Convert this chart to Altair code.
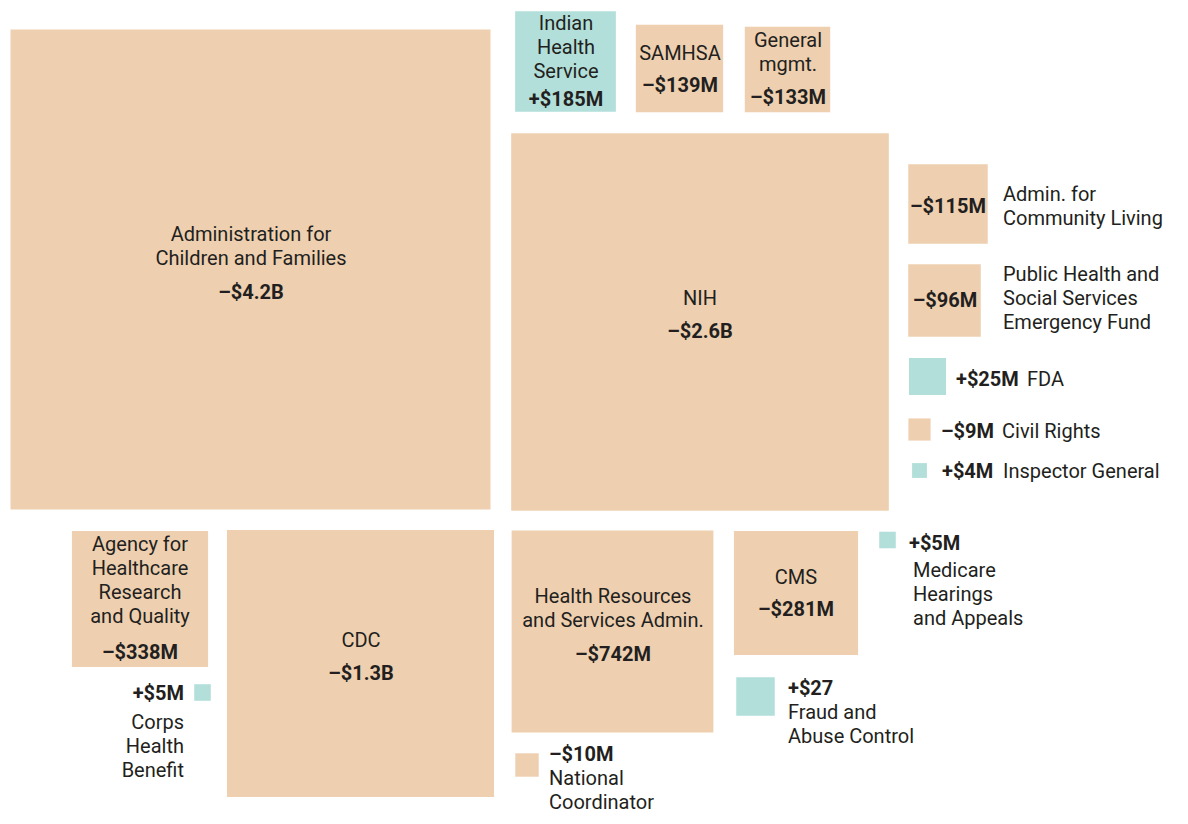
import altair as alt
import pandas as pd
import numpy as np

# ---- data ----
agencies = [
    "Administration for Children and Families", "NIH", "Indian Health Service", "SAMHSA",
    "General mgmt.", "Admin. for Community Living",
    "Public Health and Social Services Emergency Fund", "FDA", "Civil Rights",
    "Inspector General", "Agency for Healthcare Research and Quality", "Corps Health Benefit",
    "CDC", "Health Resources and Services Admin.", "National Coordinator", "CMS",
    "Medicare Hearings and Appeals", "Fraud and Abuse Control",
]
change_musd = [-4200, -2600, 185, -139, -133, -115, -96, 25, -9, 4,
               -338, 5, -1300, -742, -10, -281, 5, 27]
value_labels = ["–$4.2B", "–$2.6B", "+$185M", "–$139M", "–$133M", "–$115M", "–$96M",
                "+$25M", "–$9M", "+$4M", "–$338M", "+$5M", "–$1.3B", "–$742M",
                "–$10M", "–$281M", "+$5M", "+$27"]
name_lines = [
    ["Administration for", "Children and Families"], ["NIH"], ["Indian", "Health", "Service"],
    ["SAMHSA"], ["General", "mgmt."], ["Admin. for", "Community Living"],
    ["Public Health and", "Social Services", "Emergency Fund"], ["FDA"], ["Civil Rights"],
    ["Inspector General"], ["Agency for", "Healthcare", "Research", "and Quality"],
    ["Corps", "Health", "Benefit"], ["CDC"], ["Health Resources", "and Services Admin."],
    ["National", "Coordinator"], ["CMS"], ["Medicare", "Hearings", "and Appeals"],
    ["Fraud and", "Abuse Control"],
]

# ---- layout (square centres and label anchors, in page pixels) ----
centers = [(250.5, 269.5), (700, 322), (565.5, 61.5), (679.5, 68.5), (787.5, 69.5),
           (948, 204), (944.5, 300.5), (927.5, 376.5), (919.5, 429.5), (919.5, 470.5),
           (140, 599), (202.5, 692.5), (360.5, 663.5), (612.5, 631.5), (527, 765),
           (796, 593), (887.5, 540), (755.5, 696.5)]
# name_x, name_y (first line centre), name_align, value_x, value_y, value_align
label_layout = [
    (251, 234, "center", 251, 292, "center"),
    (700, 298, "center", 700, 331, "center"),
    (566, 23, "center", 566, 99, "center"),
    (680, 53, "center", 680, 85, "center"),
    (788, 40, "center", 788, 97, "center"),
    (1003, 194, "left", 948, 206, "center"),
    (1003, 274, "left", 945, 300, "center"),
    (1027, 379, "left", 956, 379, "left"),
    (1002, 431, "left", 941, 431, "left"),
    (1003, 471, "left", 942, 471, "left"),
    (140, 544, "center", 140, 652, "center"),
    (184, 722, "right", 184, 693, "right"),
    (361, 640, "center", 361, 673, "center"),
    (613, 596, "center", 613, 654, "center"),
    (549, 778, "left", 549, 754, "left"),
    (796, 577, "center", 796, 609, "center"),
    (913, 570, "left", 909, 543, "left"),
    (788, 712, "left", 788, 688, "left"),
]
LINE = 24
BASE = 7

TAN = "#EED0B0"
TEAL = "#B2DFDA"
INK = "#231F20"
FONT = "Roboto"
FS = 20

sq = pd.DataFrame({
    "agency": agencies,
    "change": change_musd,
    "abs_change": [abs(v) for v in change_musd],
    "direction": ["increase" if v > 0 else "cut" for v in change_musd],
    "cx": [c[0] for c in centers],
    "cy": [c[1] for c in centers],
})

rows = []
for i, lay in enumerate(label_layout):
    nx, ny, na, vx, vy, va = lay
    for j, line in enumerate(name_lines[i]):
        rows.append({"x": nx, "y": ny + j * LINE + BASE, "text": line, "bold": False, "align": na})
    rows.append({"x": vx, "y": vy + BASE, "text": value_labels[i], "bold": True, "align": va})
txt = pd.DataFrame(rows)

W, H = 1172, 808
xs = alt.Scale(domain=[8, 8 + W], range=[0, W])
ys = alt.Scale(domain=[8, 8 + H], range=[0, H])

k = 480 / np.sqrt(4200)  # px per sqrt($M)
size_scale = alt.Scale(domain=[0, 4200], range=[0, 4200 * k * k], zero=True)

squares = alt.Chart(sq).mark_square(opacity=1, filled=True, strokeWidth=0).encode(
    x=alt.X("cx:Q", scale=xs, axis=None),
    y=alt.Y("cy:Q", scale=ys, axis=None),
    size=alt.Size("abs_change:Q", scale=size_scale, legend=None),
    color=alt.Color("direction:N", scale=alt.Scale(domain=["cut", "increase"], range=[TAN, TEAL]), legend=None),
)

layers = [squares]
for align in ["left", "center", "right"]:
    for bold in [False, True]:
        d = txt[(txt["align"] == align) & (txt["bold"] == bold)]
        if len(d) == 0:
            continue
        layers.append(
            alt.Chart(d).mark_text(
                align=align, baseline="alphabetic", font=FONT, fontSize=FS,
                fontWeight="bold" if bold else "normal", color=INK,
            ).encode(
                x=alt.X("x:Q", scale=xs, axis=None),
                y=alt.Y("y:Q", scale=ys, axis=None),
                text="text:N",
            )
        )

chart = alt.layer(*layers).properties(
    width=W, height=H, padding=0, autosize=alt.AutoSizeParams(type="none"),
    background="white",
).configure_view(stroke=None)

chart.save("out.html", embed_options={"renderer": "svg", "actions": False})
